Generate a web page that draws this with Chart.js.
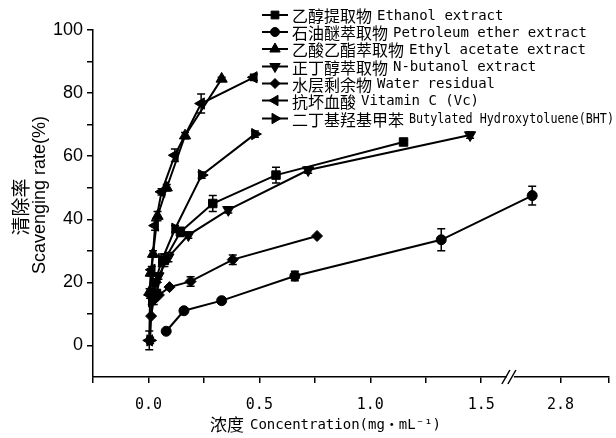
<!DOCTYPE html>
<html>
<head>
<meta charset="utf-8">
<script src="https://cdn.jsdelivr.net/npm/chart.js@4"></script>
<style>
  html, body { margin: 0; padding: 0; background: #fff; }
  #wrap { width: 616px; height: 438px; }
</style>
</head>
<body>
<div id="wrap"><canvas id="chart"></canvas></div>
<script>
// Concentration (mg/mL) and scavenging rate (%), with error bars
const ethanolConc = [0.036, 0.072, 0.144, 0.29, 0.575, 1.15];
const ethanolRate = [16.5, 27, 36, 45, 54, 64.5];
const ethanolErr  = [1, 2, 1.5, 2.5, 2.5, 0.5];

const petroleumConc = [0.08, 0.16, 0.33, 0.66, 1.32, 2.64];
const petroleumRate = [4.5, 11, 14.2, 22, 33.5, 47.5];
const petroleumErr  = [0, 0, 0, 1.5, 3.5, 3];

const ethylConc = [0.005, 0.0103, 0.0206, 0.041, 0.0825, 0.165, 0.33];
const ethylRate = [17, 23, 29, 41, 50, 66.5, 84.5];
const ethylErr  = [1, 1, 1, 1.5, 1, 1, 0.5];

const butanolConc = [0.0225, 0.045, 0.09, 0.18, 0.36, 0.72, 1.45];
const butanolRate = [15, 22, 28, 35, 43, 55.6, 66.7];
const butanolErr  = [1, 1, 1.5, 1, 1, 1, 1];

const waterConc = [0.012, 0.024, 0.047, 0.095, 0.19, 0.38, 0.76];
const waterRate = [9.3, 14.5, 16, 18.5, 20.3, 27.2, 34.7];
const waterErr  = [0, 1.5, 0, 0, 1.5, 1.5, 0];

const vcConc = [0.0037, 0.0074, 0.015, 0.03, 0.059, 0.119, 0.2375, 0.475];
const vcRate = [1.6, 16, 24, 38, 48.7, 60.3, 76.7, 85];
const vcErr  = [3, 1, 1, 1.5, 1, 2, 3, 1];

const bhtConc = [0.0075, 0.015, 0.03, 0.06, 0.12, 0.24, 0.48];
const bhtRate = [1.6, 14, 20, 27, 37, 54, 67];
const bhtErr  = [1, 1, 1, 2, 1, 1, 1];

const seriesCn = ['乙醇提取物', '石油醚萃取物', '乙酸乙酯萃取物', '正丁醇萃取物', '水层剩余物', '抗坏血酸', '二丁基羟基甲苯'];
const seriesEn = ['Ethanol extract', 'Petroleum ether extract', 'Ethyl acetate extract', 'N-butanol extract',
  'Water residual', 'Vitamin C (Vc)', 'Butylated Hydroxytoluene(BHT)'];

const xTicks = [-0.25, 0, 0.25, 0.5, 0.75, 1.0, 1.25, 1.5, 2.8, 3.07];
const xTickLabels = ['', '0.0', '', '0.5', '', '1.0', '', '1.5', '2.8', ''];
const xTitleCn = '浓度';
const xTitleEn = 'Concentration(mg・mL⁻¹)';
const yTitleCn = '清除率';
const yTitleEn = 'Scavenging rate(%)';

// broken x axis: values past the break are squeezed onto the right stub
const X_BREAK_AXIS = 1.634;
const X_BREAK_VALUE = 2.52;
const X_RIGHT_FACTOR = 0.8;
function toAxis(c) {
  return c <= X_BREAK_AXIS ? c : X_BREAK_AXIS + (c - X_BREAK_VALUE) * X_RIGHT_FACTOR;
}

const series = [
  { conc: ethanolConc, rate: ethanolRate, err: ethanolErr, style: 'rect', rot: 0, r: 6 },
  { conc: petroleumConc, rate: petroleumRate, err: petroleumErr, style: 'circle', rot: 0, r: 5 },
  { conc: ethylConc, rate: ethylRate, err: ethylErr, style: 'triangle', rot: 0, r: 6.5 },
  { conc: butanolConc, rate: butanolRate, err: butanolErr, style: 'triangle', rot: 180, r: 6.5 },
  { conc: waterConc, rate: waterRate, err: waterErr, style: 'rectRot', rot: 0, r: 5.5 },
  { conc: vcConc, rate: vcRate, err: vcErr, style: 'triangle', rot: -90, r: 6.5 },
  { conc: bhtConc, rate: bhtRate, err: bhtErr, style: 'triangle', rot: 90, r: 6.5 }
];

const datasets = series.map((s, k) => ({
  label: seriesCn[k] + ' ' + seriesEn[k],
  data: s.conc.map((c, i) => ({ x: toAxis(c), y: s.rate[i] })),
  err: s.err,
  showLine: true,
  borderColor: '#000',
  backgroundColor: '#000',
  borderWidth: 2,
  pointStyle: s.style,
  rotation: s.rot,
  pointRadius: s.r,
  pointBorderWidth: 1
}));

// error bars, drawn through the y scale
const errorBars = {
  id: 'errorBars',
  afterDatasetsDraw(chart) {
    const ctx = chart.ctx;
    const ys = chart.scales.y;
    ctx.save();
    ctx.strokeStyle = '#000';
    ctx.lineWidth = 1.5;
    chart.data.datasets.forEach((ds, di) => {
      const meta = chart.getDatasetMeta(di);
      meta.data.forEach((pt, i) => {
        const e = ds.err[i];
        if (!e) return;
        const v = ds.data[i].y;
        const top = ys.getPixelForValue(v + e);
        const bot = ys.getPixelForValue(v - e);
        ctx.beginPath();
        ctx.moveTo(pt.x, top); ctx.lineTo(pt.x, bot);
        ctx.moveTo(pt.x - 4, top); ctx.lineTo(pt.x + 4, top);
        ctx.moveTo(pt.x - 4, bot); ctx.lineTo(pt.x + 4, bot);
        ctx.stroke();
      });
    });
    ctx.restore();
  }
};

// the // mark on the x axis
const axisBreak = {
  id: 'axisBreak',
  afterDraw(chart) {
    const ctx = chart.ctx;
    const px = chart.scales.x.getPixelForValue(X_BREAK_AXIS);
    const py = chart.chartArea.bottom;
    ctx.save();
    ctx.fillStyle = '#fff';
    ctx.fillRect(px - 4, py - 2, 7, 4);
    ctx.strokeStyle = '#000';
    ctx.lineWidth = 1.5;
    ctx.beginPath();
    ctx.moveTo(px - 9, py + 7); ctx.lineTo(px - 1, py - 7);
    ctx.moveTo(px - 3, py + 7); ctx.lineTo(px + 5, py - 7);
    ctx.stroke();
    ctx.restore();
  }
};

const legendRows = [15, 32, 49, 66.5, 83.5, 100.5, 118.5];
const legendBox = {
  id: 'legendBox',
  afterDraw(chart) {
    const ctx = chart.ctx;
    ctx.save();
    ctx.textBaseline = 'middle';
    chart.data.datasets.forEach((ds, i) => {
      const y = legendRows[i];
      ctx.strokeStyle = '#000';
      ctx.fillStyle = '#000';
      ctx.lineWidth = 2;
      ctx.beginPath();
      ctx.moveTo(262, y); ctx.lineTo(288, y);
      ctx.stroke();
      ctx.lineWidth = 1;
      Chart.helpers.drawPoint(ctx, { pointStyle: ds.pointStyle, rotation: ds.rotation, radius: ds.pointRadius - 0.5, borderWidth: 1 }, 275, y);
      ctx.font = "16px 'Noto Sans CJK SC'";
      ctx.fillText(seriesCn[i], 292, y + 1);
      const x2 = 292 + ctx.measureText(seriesCn[i]).width + 5;
      ctx.font = "14px 'DejaVu Sans Mono'";
      ctx.fillText(seriesEn[i], x2, y + 1, 614 - x2);
    });
    ctx.restore();
  }
};

const axisTitles = {
  id: 'axisTitles',
  afterDraw(chart) {
    const ctx = chart.ctx;
    ctx.save();
    ctx.fillStyle = '#000';
    ctx.textBaseline = 'middle';
    ctx.font = "17px 'Noto Sans CJK SC'";
    ctx.fillText(xTitleCn, 210, 425);
    const x2 = 210 + ctx.measureText(xTitleCn).width + 6;
    ctx.font = "14px 'DejaVu Sans Mono', 'Noto Sans CJK SC'";
    ctx.fillText(xTitleEn, x2, 425);
    ctx.textAlign = 'center';
    ctx.save();
    ctx.translate(21, 207);
    ctx.rotate(-Math.PI / 2);
    ctx.font = "19px 'Noto Sans CJK SC'";
    ctx.fillText(yTitleCn, 0, 0);
    ctx.restore();
    ctx.translate(40, 195);
    ctx.rotate(-Math.PI / 2);
    ctx.font = "18px 'Liberation Sans'";
    ctx.fillText(yTitleEn, 0, 0);
    ctx.restore();
  }
};

new Chart(document.getElementById('chart'), {
  type: 'scatter',
  data: { datasets },
  plugins: [errorBars, axisBreak, legendBox, axisTitles],
  options: {
    responsive: true,
    maintainAspectRatio: false,
    animation: false,
    layout: { padding: { top: 30, right: -3, left: 0, bottom: 0 } },
    plugins: { legend: { display: false }, tooltip: { enabled: false } },
    scales: {
      x: {
        type: 'linear',
        min: -0.25,
        max: toAxis(3.07),
        afterFit(scale) { scale.height = 61; scale.paddingLeft = 0; scale.paddingRight = 0; },
        afterBuildTicks(scale) { scale.ticks = xTicks.map(v => ({ value: toAxis(v) })); },
        ticks: {
          autoSkip: false,
          maxRotation: 0,
          padding: 13,
          color: '#000',
          font: { family: "'DejaVu Sans Mono'", size: 15 },
          callback: (value, index) => xTickLabels[index]
        },
        grid: { drawOnChartArea: false, drawTicks: true, tickLength: 6, color: '#000', lineWidth: 1.5 },
        border: { color: '#000', width: 1.5 }
      },
      y: {
        min: -10,
        max: 100,
        afterFit(scale) { scale.width = 93; scale.paddingTop = 0; scale.paddingBottom = 0; },
        ticks: {
          stepSize: 10,
          padding: 4,
          color: '#000',
          font: { family: "'Liberation Sans'", size: 18 },
          callback: (value) => (value >= 0 && value % 20 === 0 ? value : '')
        },
        grid: {
          drawOnChartArea: false,
          drawTicks: true,
          tickLength: 6,
          lineWidth: 1.5,
          color: (c) => (c.tick && c.tick.value === -10 ? 'rgba(0,0,0,0)' : '#000')
        },
        border: { color: '#000', width: 1.5 }
      }
    }
  }
});
</script>
</body>
</html>
